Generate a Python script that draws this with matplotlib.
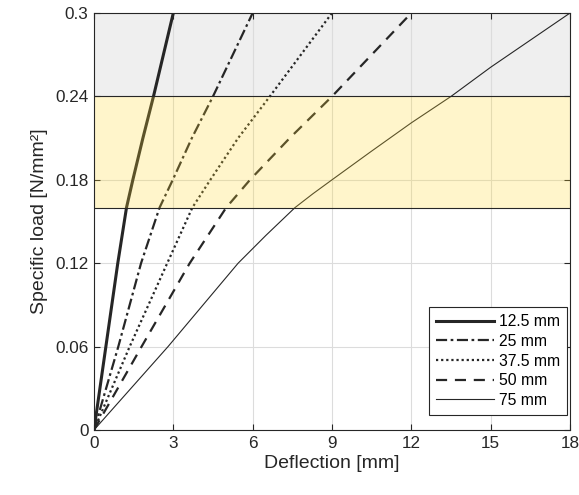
import numpy as np
import matplotlib.pyplot as plt

# deflection [mm] vs specific load [N/mm2]
load = [0, 0.06, 0.12, 0.16, 0.18, 0.21, 0.24, 0.30]
defl_125 = [0, 0.45, 0.90, 1.23, 1.47, 1.85, 2.25, 3.0]
defl_25 = [0, 0.92, 1.78, 2.48, 2.98, 3.70, 4.50, 6.0]
defl_375 = [0, 1.35, 2.77, 3.72, 4.40, 5.45, 6.65, 9.0]
defl_50 = [0, 1.80, 3.62, 5.00, 5.90, 7.40, 9.00, 12.0]

load_75 = [0, 0.06, 0.12, 0.14, 0.16, 0.17, 0.18, 0.20, 0.221, 0.24, 0.261, 0.30]
defl_75 = [0, 2.80, 5.45, 6.50, 7.60, 8.28, 9.00, 10.45, 12.0, 13.5, 15.0, 18.0]

labels = ['12.5 mm', '25 mm', '37.5 mm', '50 mm', '75 mm']
band_yellow = (0.16, 0.24)
band_gray = (0.24, 0.30)

plt.rcParams['font.family'] = ['Liberation Sans', 'DejaVu Sans']

fig = plt.figure(figsize=(5.79, 4.95), dpi=100)
ax = fig.add_axes([0.1623, 0.1313, 0.8222, 0.8424])

c = '#262626'
ax.plot(defl_125, load, color=c, lw=2.2, ls='-', label=labels[0], zorder=2)
ax.plot(defl_25, load, color=c, lw=1.6, ls=(0, (5, 1.6, 1.2, 1.6)), label=labels[1], zorder=2)
ax.plot(defl_375, load, color=c, lw=1.6, ls=(0, (1, 1.3)), label=labels[2], zorder=2)
ax.plot(defl_50, load, color=c, lw=1.6, ls=(0, (5, 3.5)), label=labels[3], zorder=2)
ax.plot(defl_75, load_75, color=c, lw=0.8, ls='-', label=labels[4], zorder=2)

# shaded load ranges: grey under the lines, yellow tinted over them
ax.axhspan(*band_gray, facecolor='#efefef', edgecolor='none', zorder=0.5)
ax.axhspan(*band_yellow, facecolor=(1.0, 0.85, 0.2), alpha=0.25, edgecolor='none', zorder=3)
for yb in band_yellow:
    ax.axhline(yb, color=c, lw=0.8, zorder=4)

ax.set_xlim(0, 18)
ax.set_ylim(0, 0.3)
ax.set_xticks(np.arange(0, 19, 3))
ax.set_yticks([0, 0.06, 0.12, 0.18, 0.24, 0.3])
ax.set_yticklabels(['0', '0.06', '0.12', '0.18', '0.24', '0.3'])
ax.grid(True, color='#dcdcdc', lw=0.8, zorder=1)
ax.tick_params(direction='in', top=True, right=True, labelsize=12.3, length=4,
               color='#262626', labelcolor='#262626', pad=4)
for s in ax.spines.values():
    s.set_color('#262626')
    s.set_linewidth(0.8)
    s.set_zorder(5)

ax.set_xlabel('Deflection [mm]', fontsize=14, color='#262626', labelpad=3)
ax.set_ylabel('Specific load [N/mm²]', fontsize=14, color='#262626', labelpad=5)

leg = ax.legend(loc='lower right', fontsize=11.3, handlelength=3.7, handletextpad=0.3,
                labelspacing=0.3, fancybox=False, framealpha=1, borderpad=0.45,
                borderaxespad=0, bbox_to_anchor=(0.994, 0.036))
leg.get_frame().set_edgecolor('#262626')
leg.get_frame().set_linewidth(0.8)
leg.set_zorder(6)

fig.savefig('out.png', dpi=100)
